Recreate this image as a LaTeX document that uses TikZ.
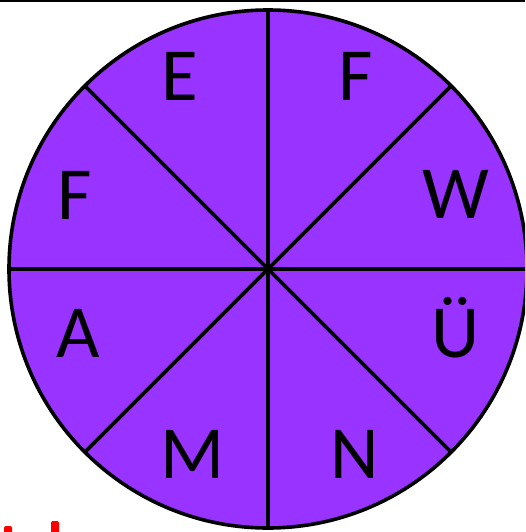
\documentclass[tikz,border=0pt]{standalone}
\usepackage{fontspec}
\setmainfont{Carlito}
\usepackage{tikz}
\usetikzlibrary{positioning, calc}
\definecolor{mypurple}{RGB}{153,51,255}
\definecolor{myred}{RGB}{250,0,0}
\tikzset{
  wheel/.style={draw=black, fill=mypurple, line width=3.6pt},
  spoke/.style={draw=black, line width=3.6pt},
  letter/.style={anchor=base, inner sep=0pt, text=black,
    font=\fontsize{75}{80}\selectfont}
}

\begin{document}
\begin{tikzpicture}[x=1pt, y=-1pt]
  \useasboundingbox (0,0) rectangle (525,532);
  \clip (0,0) rectangle (525,532);
  % top rule
  \fill[black] (0,0) rectangle (525,2.5);
  % wheel with eight sectors
  \coordinate (hub) at (268,269);
  \draw[wheel] (hub) circle (259);
  \foreach \a in {0,45,...,315}
    \draw[spoke] (hub) -- ++(\a:259);
  \fill[black] (hub) circle (4.5);
  % letters
  \node[letter] (e)  at (180,101) {E};
  \node[letter] (f1) at (356,101) {F};
  \node[letter] (w)  at (456,218) {W};
  \node[letter] (u)  at (456,357) {Ü};
  \node[letter] (n)  at (355,478) {N};
  \node[letter] (m)  at (193,478) {M};
  \node[letter] (a)  at (78,357)  {A};
  \node[letter] (f2) at (75,219)  {F};
  % cut-off red marks
  \fill[myred, rounded corners=2pt] (4,526) rectangle (12,536);
  \fill[myred, rounded corners=2pt] (51,521) rectangle (59,536);
\end{tikzpicture}
\end{document}
